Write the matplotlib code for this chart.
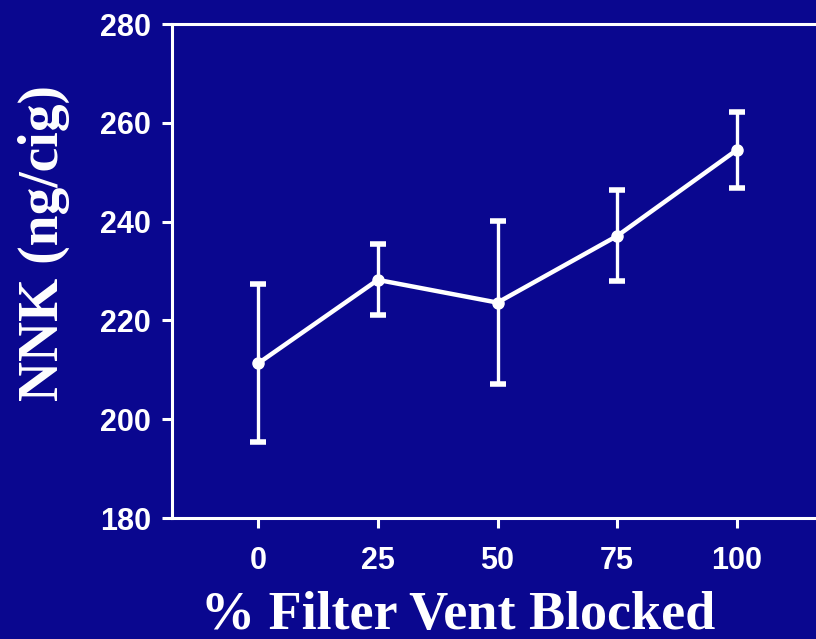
import matplotlib.pyplot as plt

# data
blocked = [0, 25, 50, 75, 100]
nnk = [211.3, 228.2, 223.6, 237.1, 254.5]
nnk_err = [16.0, 7.2, 16.5, 9.2, 7.6]

x_ticks = [0, 25, 50, 75, 100]
y_ticks = [180, 200, 220, 240, 260, 280]

bg = "#0A078F"
fg = "white"

fig = plt.figure(figsize=(8.16, 6.39), dpi=100, facecolor=bg)
ax = fig.add_axes([172 / 816, 1 - 518 / 639, (823 - 172) / 816, (518 - 24) / 639])
ax.set_facecolor(bg)

ax.errorbar(
    blocked, nnk, yerr=nnk_err,
    color=fg, lw=3.2, marker="o", ms=8,
    elinewidth=2.4, capsize=6, capthick=4,
    solid_capstyle="round",
)

ax.set_xlim(-18, 118)
ax.set_ylim(180, 280)
ax.set_xticks(x_ticks)
ax.set_yticks(y_ticks)

for side in ["left", "bottom", "top"]:
    ax.spines[side].set_color(fg)
    ax.spines[side].set_linewidth(2.2)
ax.spines["right"].set_visible(False)

ax.tick_params(colors=fg, width=2.2, length=7, direction="out", labelsize=22, pad=8)
for lab in ax.get_xticklabels() + ax.get_yticklabels():
    lab.set_fontfamily("Liberation Sans")
    lab.set_fontweight("bold")
ax.tick_params(axis="x", pad=13)

fig.text(458 / 816, 1 - 616 / 639, "% Filter Vent Blocked", color=fg,
         fontfamily="Liberation Serif", fontweight="bold", fontsize=39,
         ha="center", va="center")
fig.text(44 / 816, 1 - 243 / 639, "NNK (ng/cig)", color=fg,
         fontfamily="Liberation Serif", fontweight="bold", fontsize=40,
         ha="center", va="center", rotation=90)

fig.savefig("out.png", dpi=100, facecolor=bg)
